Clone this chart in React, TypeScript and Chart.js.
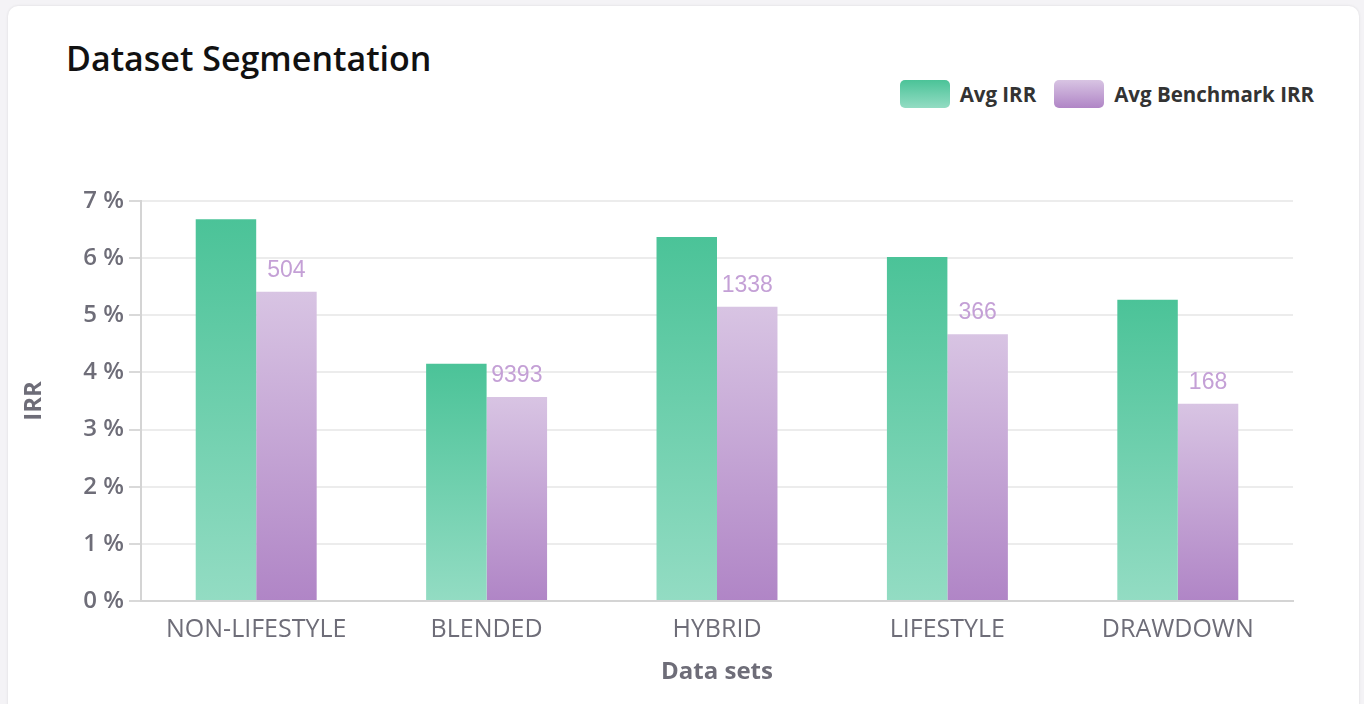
import React, { useEffect, useRef } from "react";
import { Chart, registerables } from "chart.js";

Chart.register(...registerables);

const categories = ["NON-LIFESTYLE", "BLENDED", "HYBRID", "LIFESTYLE", "DRAWDOWN"];
const avgIrr = [6.68, 4.15, 6.37, 6.02, 5.27];
const avgBenchmarkIrr = [5.41, 3.57, 5.15, 4.67, 3.45];
const benchmarkCounts = [504, 9393, 1338, 366, 168];
const yTicks = [0, 1, 2, 3, 4, 5, 6, 7];
const seriesNames = ["Avg IRR", "Avg Benchmark IRR"];

const GREEN_TOP = "#4bc398";
const GREEN_BOTTOM = "#93dcc3";
const PURPLE_TOP = "#d8c4e3";
const PURPLE_BOTTOM = "#b085c6";
const AXIS_TEXT = "#6e6d78";

function barGradient(top: string, bottom: string) {
  return (ctx: any) => {
    const chart = ctx.chart;
    const y = chart.scales && chart.scales.y;
    if (!chart.chartArea || !y || ctx.type !== "data" || typeof ctx.raw !== "number") return bottom;
    const yTop = y.getPixelForValue(ctx.raw);
    const yBot = y.getPixelForValue(0);
    if (!isFinite(yTop) || !isFinite(yBot) || yTop === yBot) return bottom;
    const g = chart.ctx.createLinearGradient(0, yTop, 0, yBot);
    g.addColorStop(0, top);
    g.addColorStop(1, bottom);
    return g;
  };
}

const countLabels = {
  id: "countLabels",
  afterDatasetsDraw(chart: any) {
    const meta = chart.getDatasetMeta(1);
    const ctx = chart.ctx;
    ctx.save();
    ctx.font = '23px "Liberation Sans", Arial, sans-serif';
    ctx.fillStyle = "#c4a0d6";
    ctx.textAlign = "center";
    ctx.textBaseline = "alphabetic";
    meta.data.forEach((bar: any, i: number) => {
      ctx.fillText(String(benchmarkCounts[i]), bar.x, bar.y - 15);
    });
    ctx.restore();
  },
};

export default function App() {
  const ref = useRef<HTMLCanvasElement | null>(null);

  useEffect(() => {
    if (!ref.current) return;
    const chart = new Chart(ref.current, {
      type: "bar",
      data: {
        labels: categories,
        datasets: [
          {
            label: seriesNames[0],
            data: avgIrr,
            backgroundColor: barGradient(GREEN_TOP, GREEN_BOTTOM),
            borderWidth: 0,
            categoryPercentage: 0.525,
            barPercentage: 1,
          },
          {
            label: seriesNames[1],
            data: avgBenchmarkIrr,
            backgroundColor: barGradient(PURPLE_TOP, PURPLE_BOTTOM),
            borderWidth: 0,
            categoryPercentage: 0.525,
            barPercentage: 1,
          },
        ],
      },
      plugins: [countLabels],
      options: {
        responsive: false,
        animation: false,
        layout: { padding: { left: 10, right: 71, top: 201, bottom: 0 } },
        plugins: {
          legend: { display: false },
          tooltip: { enabled: false },
          title: { display: false },
        },
        scales: {
          x: {
            grid: { display: false, drawTicks: false },
            border: { display: true, color: "#d4d4d4", width: 2 },
            ticks: {
              color: AXIS_TEXT,
              font: { family: "'Open Sans'", size: 25, weight: "500" },
              padding: 14,
              autoSkip: false,
              maxRotation: 0,
            },
            title: {
              display: true,
              text: "Data sets",
              color: AXIS_TEXT,
              font: { family: "'Open Sans'", size: 24, weight: "bold" },
              padding: { top: 0, bottom: 17 },
            },
            afterFit: (s: any) => {
              s.height = 103;
            },
          },
          y: {
            min: 0,
            max: 7,
            afterBuildTicks: (s: any) => {
              s.ticks = yTicks.map((v) => ({ value: v }));
            },
            ticks: {
              color: AXIS_TEXT,
              font: { family: "'Open Sans'", size: 24, weight: "600" },
              padding: 5,
              callback: (v: any) => `${v} %`,
            },
            grid: { color: "#ececec", lineWidth: 2, tickLength: 12, tickColor: "#d9d9d9" },
            border: { display: true, color: "#d4d4d4", width: 2 },
            title: {
              display: true,
              text: "IRR",
              color: AXIS_TEXT,
              font: { family: "'Open Sans'", size: 24, weight: "bold" },
              padding: { top: 10, bottom: 0 },
            },
            afterFit: (s: any) => {
              s.width = 131;
            },
          },
        },
      },
    });
    return () => chart.destroy();
  }, []);

  const legendBox = (top: string, bottom: string) => ({
    width: 50,
    height: 28,
    borderRadius: 5,
    background: `linear-gradient(to bottom, ${top}, ${bottom})`,
    marginRight: 10,
    flex: "0 0 auto",
  });

  return (
    <div
      style={{
        position: "absolute",
        left: 0,
        top: 0,
        width: 1364,
        height: 704,
        overflow: "hidden",
        background: "#f4f3f6",
      }}
    >
      <div
        style={{
          position: "absolute",
          left: 8,
          top: 6,
          width: 1351,
          height: 760,
          background: "#ffffff",
          borderRadius: 10,
          boxShadow: "0 0 3px rgba(0,0,0,0.10)",
        }}
      />
      <div
        style={{
          position: "absolute",
          left: 66,
          top: 35,
          fontFamily: "'Open Sans', sans-serif",
          fontWeight: 600,
          fontSize: 34,
          color: "#111111",
          whiteSpace: "nowrap",
        }}
      >
        Dataset Segmentation
      </div>
      <div
        style={{
          position: "absolute",
          right: 50,
          top: 80,
          height: 28,
          display: "flex",
          alignItems: "center",
          fontFamily: "'Open Sans', sans-serif",
          fontWeight: 700,
          fontSize: 20.5,
          color: "#333333",
          whiteSpace: "nowrap",
        }}
      >
        <div style={legendBox(GREEN_TOP, GREEN_BOTTOM)} />
        <span style={{ marginRight: 18 }}>{seriesNames[0]}</span>
        <div style={legendBox(PURPLE_TOP, PURPLE_BOTTOM)} />
        <span>{seriesNames[1]}</span>
      </div>
      <canvas
        ref={ref}
        width={1364}
        height={704}
        style={{ position: "absolute", left: 0, top: 0, width: 1364, height: 704 }}
      />
    </div>
  );
}
